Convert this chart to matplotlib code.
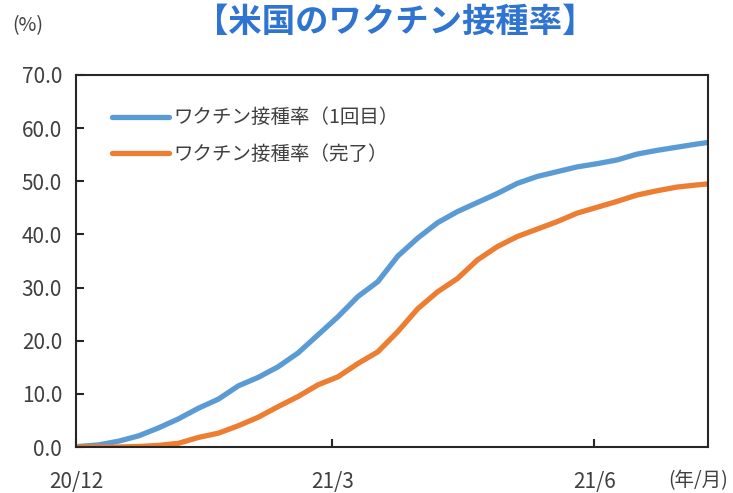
import matplotlib
matplotlib.use('Agg')
import matplotlib.pyplot as plt
import pandas as pd

plt.rcParams['font.family'] = ['Noto Sans CJK JP', 'DejaVu Sans']

# weekly readings, starting 2020-12-02, plus the last day 2021-07-11
dates = list(pd.date_range('2020-12-02', periods=32, freq='7D')) + [pd.Timestamp('2021-07-11')]

first_dose = [0.1, 0.4, 1.1, 2.1, 3.6, 5.3, 7.3, 9.0, 11.5, 13.1, 15.1, 17.7, 21.1, 24.5,
              28.3, 31.1, 35.9, 39.3, 42.2, 44.3, 46.0, 47.7, 49.6, 50.9, 51.8, 52.7,
              53.3, 54.0, 55.1, 55.8, 56.4, 57.0, 57.3]
fully_vacc = [0.0, 0.0, 0.0, 0.1, 0.3, 0.7, 1.8, 2.6, 4.0, 5.6, 7.6, 9.5, 11.7, 13.2,
              15.7, 17.9, 21.7, 26.0, 29.2, 31.7, 35.2, 37.7, 39.6, 41.0, 42.4, 44.0,
              45.1, 46.2, 47.4, 48.2, 48.9, 49.3, 49.5]

tick_dates = [pd.Timestamp('2020-12-01'), pd.Timestamp('2021-03-01'), pd.Timestamp('2021-06-01')]
tick_labels = ['20/12', '21/3', '21/6']
labels = ['ワクチン接種率（1回目）', 'ワクチン接種率（完了）']

txt = '#404040'

fig = plt.figure(figsize=(7.33, 4.93), dpi=100)
ax = fig.add_axes([0.1037, 0.0933, 0.8623, 0.7547])

ax.plot(dates, first_dose, color='#5B9BD5', lw=3.8, solid_capstyle='round', label=labels[0])
ax.plot(dates, fully_vacc, color='#ED7D31', lw=3.8, solid_capstyle='round', label=labels[1])

ax.set_xlim(pd.Timestamp('2020-12-01'), pd.Timestamp('2021-07-11'))
ax.set_ylim(0, 70)
ax.set_yticks(range(0, 71, 10))
ax.set_yticklabels([f'{v:.1f}' for v in range(0, 71, 10)])
ax.set_xticks(tick_dates)
ax.set_xticklabels(tick_labels)

for s in ax.spines.values():
    s.set_linewidth(1.5)
    s.set_color('#262626')
ax.tick_params(axis='both', direction='in', length=6, width=1.5, color='#262626',
               labelsize=15, labelcolor=txt)
ax.tick_params(axis='y', pad=10)
ax.tick_params(axis='x', pad=17)

ax.legend(loc='upper left', bbox_to_anchor=(0.03, 0.96), frameon=False, fontsize=14,
          handlelength=2.9, handletextpad=0.25, labelspacing=0.8, labelcolor=txt)

fig.text(0.539, 0.955, '【米国のワクチン接種率】', ha='center', va='center',
         fontsize=24, fontweight='bold', color='#2F74D0')
fig.text(0.038, 0.948, '(%)', ha='center', va='center', fontsize=14, color=txt)
fig.text(0.952, 0.026, '(年/月)', ha='center', va='center', fontsize=14, color=txt)

fig.savefig('out.png', dpi=100)
